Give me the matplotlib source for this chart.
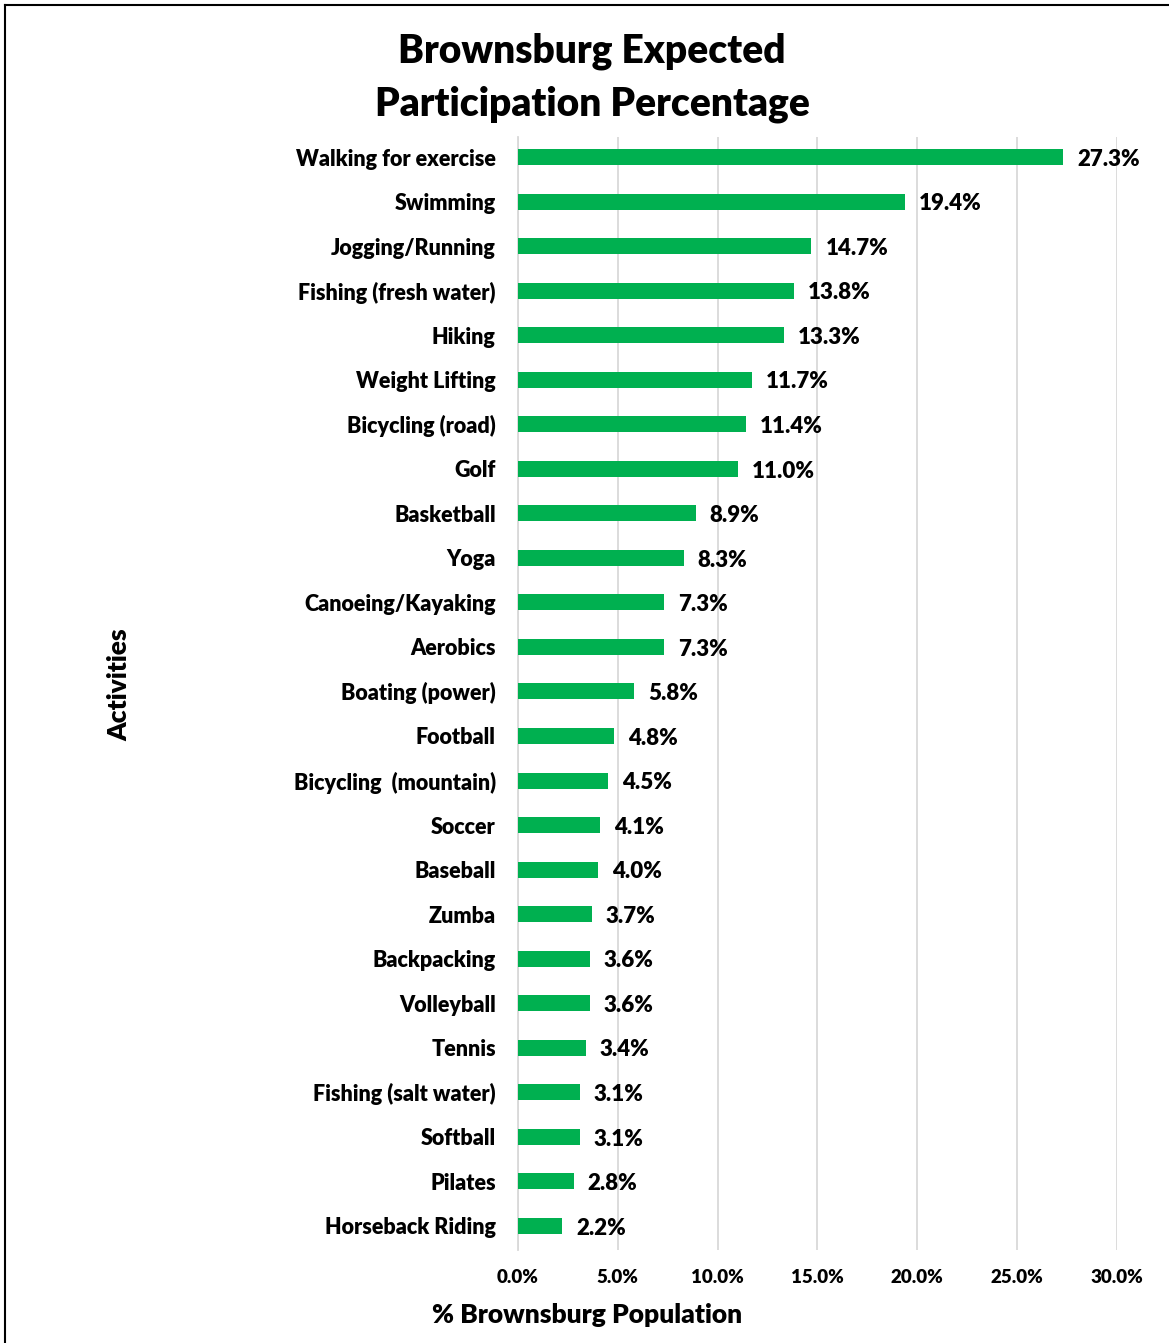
import matplotlib.pyplot as plt
from matplotlib.lines import Line2D

plt.rcParams['font.family'] = ['Lato', 'DejaVu Sans']

activities = ['Walking for exercise', 'Swimming', 'Jogging/Running', 'Fishing (fresh water)',
              'Hiking', 'Weight Lifting', 'Bicycling (road)', 'Golf', 'Basketball', 'Yoga',
              'Canoeing/Kayaking', 'Aerobics', 'Boating (power)', 'Football',
              'Bicycling  (mountain)', 'Soccer', 'Baseball', 'Zumba', 'Backpacking',
              'Volleyball', 'Tennis', 'Fishing (salt water)', 'Softball', 'Pilates',
              'Horseback Riding']
pct = [27.3, 19.4, 14.7, 13.8, 13.3, 11.7, 11.4, 11.0, 8.9, 8.3, 7.3, 7.3, 5.8, 4.8,
       4.5, 4.1, 4.0, 3.7, 3.6, 3.6, 3.4, 3.1, 3.1, 2.8, 2.2]
xticks = [0, 5, 10, 15, 20, 25, 30]

green = '#00b050'
W = 'heavy'

fig = plt.figure(figsize=(11.69, 13.43), dpi=100)
ax = fig.add_axes([0.4431, 0.0693, 0.5124, 0.8287])

ypos = list(range(len(activities)))
ax.barh(ypos, pct, height=0.36, color=green, zorder=3)
for y, v in zip(ypos, pct):
    ax.text(v + 0.7, y + 0.05, f'{v:.1f}%', va='center', ha='left',
            fontsize=16, fontweight=W, color='black')

ax.set_ylim(len(activities) - 0.46, -0.45)
ax.set_xlim(0, 30)
ax.set_yticks(ypos)
ax.set_yticklabels(activities, fontsize=15.5, fontweight=W)
ax.set_xticks(xticks)
ax.set_xticklabels([f'{t:.1f}%' for t in xticks], fontsize=13.5, fontweight=W)
ax.tick_params(axis='both', length=0)
ax.tick_params(axis='y', pad=16)
ax.tick_params(axis='x', pad=14)

ax.grid(axis='x', color='#d9d9d9', linewidth=1.3, zorder=0)
for s in ['top', 'right', 'bottom']:
    ax.spines[s].set_visible(False)
ax.spines['left'].set_color('#d9d9d9')
ax.spines['left'].set_linewidth(1.3)

ax.set_xlabel('% Brownsburg Population', fontsize=19, fontweight=W)
ax.xaxis.set_label_coords(0.115, -0.048)
ax.set_ylabel('Activities', fontsize=19, fontweight=W)
ax.yaxis.set_label_coords(-0.645, 0.5076)

fig.text(0.5065, 0.942, 'Brownsburg Expected\nParticipation Percentage', ha='center',
         va='center', fontsize=28, fontweight=W, linespacing=1.5)

# outer border (left and top only, as in the source image)
fig.add_artist(Line2D([0.0043, 0.0043], [0, 0.9963], color='black', linewidth=1.5,
                      transform=fig.transFigure))
fig.add_artist(Line2D([0.0043, 1.0], [0.9963, 0.9963], color='black', linewidth=1.5,
                      transform=fig.transFigure))

fig.savefig('out.png', dpi=100)
